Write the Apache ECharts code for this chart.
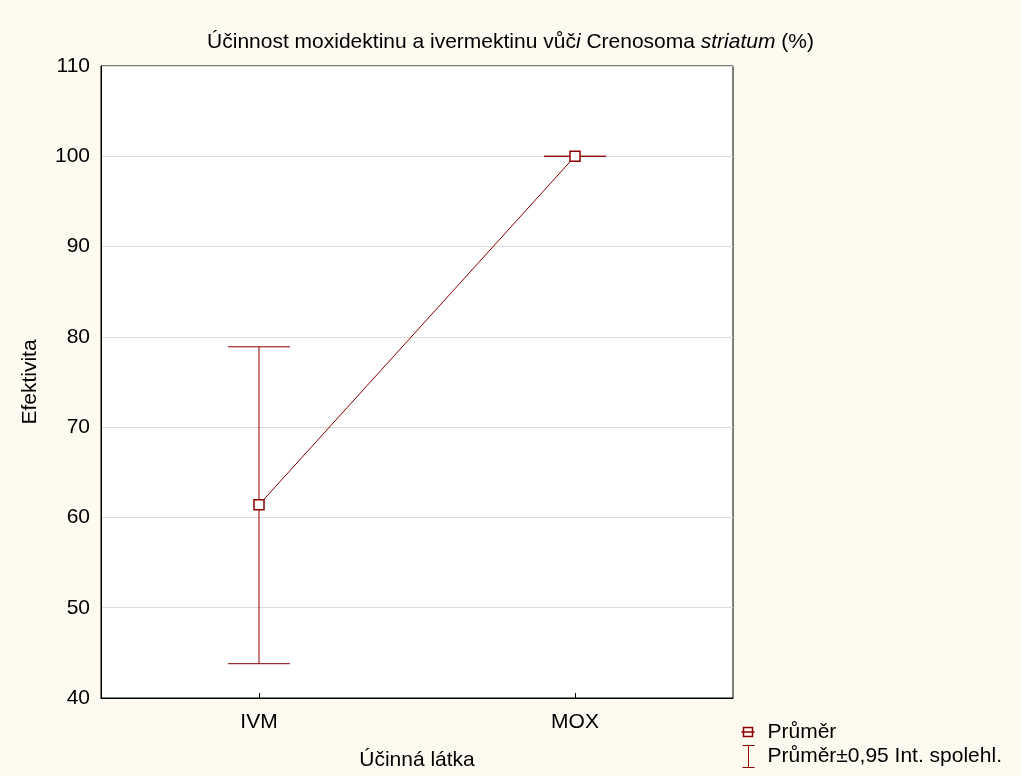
<!DOCTYPE html>
<html><head><meta charset="utf-8">
<script src="https://cdn.jsdelivr.net/npm/echarts@6/dist/echarts.min.js"></script>
<style>html,body{margin:0;padding:0;background:#fffaf0;}#c{width:1021px;height:776px;}</style>
</head><body><div id="c"></div>
<script>
const categories = ['IVM', 'MOX'];
const means = [61.4, 100];
const ciLow = [43.8, 100];
const ciHigh = [78.9, 100];
const yTicks = [40, 50, 60, 70, 80, 90, 100, 110];

const red = '#8b0000';
const font = 'Liberation Sans, Arial, sans-serif';
const fs = 21;
const chart = echarts.init(document.getElementById('c'));
chart.setOption({
  backgroundColor: '#fffaf0',
  animation: false,
  title: {
    text: '{n|Účinnost moxidektinu a ivermektinu vůč}{i|i}{n| Crenosoma }{i|striatum}{n| (%)}',
    left: 'center', top: 27,
    textStyle: {
      rich: {
        n: {fontFamily: font, fontSize: fs, fontWeight: 'normal', color: '#000'},
        i: {fontFamily: font, fontSize: fs, fontWeight: 'normal', color: '#000', fontStyle: 'italic'}
      }
    }
  },
  grid: {left: 101, right: 288, top: 66, bottom: 77, show: true, backgroundColor: '#fff', borderColor: '#000', borderWidth: 1},
  xAxis: {
    type: 'category', data: categories, boundaryGap: true,
    name: 'Účinná látka', nameLocation: 'middle', nameGap: 52,
    nameTextStyle: {fontFamily: font, fontSize: fs, color: '#000'},
    axisLine: {lineStyle: {color: '#000'}},
    axisTick: {show: true, alignWithLabel: true, inside: true, length: 5, lineStyle: {color: '#000'}},
    axisLabel: {fontFamily: font, fontSize: fs, color: '#000', margin: 14},
    splitLine: {show: false}
  },
  yAxis: {
    type: 'value', min: 40, max: 110, interval: 10,
    name: 'Efektivita', nameLocation: 'middle', nameGap: 60,
    nameTextStyle: {fontFamily: font, fontSize: fs, color: '#000'},
    axisLine: {show: true, lineStyle: {color: '#000'}},
    axisTick: {show: false},
    axisLabel: {fontFamily: font, fontSize: fs, color: '#000', margin: 11,
      formatter: v => yTicks.includes(v) ? String(v) : ''},
    splitLine: {show: true, lineStyle: {color: '#dcdcdc', width: 1}}
  },
  series: [
    {
      name: 'Průměr±0,95 Int. spolehl.', type: 'custom',
      data: categories.map((c, i) => [i, ciLow[i], ciHigh[i]]),
      renderItem: function (params, api) {
        const x = api.value(0);
        const lo = api.coord([x, api.value(1)]);
        const hi = api.coord([x, api.value(2)]);
        const hw = 31;
        const st = {stroke: red, lineWidth: 1, fill: null};
        return {type: 'group', children: [
          {type: 'line', shape: {x1: lo[0], y1: lo[1], x2: hi[0], y2: hi[1]}, style: st},
          {type: 'line', shape: {x1: lo[0] - hw, y1: lo[1], x2: lo[0] + hw, y2: lo[1]}, style: st},
          {type: 'line', shape: {x1: hi[0] - hw, y1: hi[1], x2: hi[0] + hw, y2: hi[1]}, style: st}
        ]};
      },
      z: 2
    },
    {
      name: 'Průměr', type: 'line', data: means,
      symbol: 'rect', symbolSize: 10, showAllSymbol: true,
      lineStyle: {color: red, width: 1},
      itemStyle: {color: '#fff', borderColor: red, borderWidth: 1.5},
      z: 3
    }
  ],
  graphic: [
    {type: 'group', left: 739, top: 722, children: [
      {type: 'rect', shape: {x: 2, y: 5, width: 9, height: 9}, style: {fill: null, stroke: red, lineWidth: 1.5}},
      {type: 'line', shape: {x1: 0, y1: 9.5, x2: 13, y2: 9.5}, style: {stroke: red, lineWidth: 1.5}},
      {type: 'text', style: {x: 26, y: 10, text: 'Průměr', font: fs + 'px ' + font, fill: '#000', textVerticalAlign: 'middle'}},
      {type: 'line', shape: {x1: 7, y1: 23, x2: 7, y2: 45}, style: {stroke: red, lineWidth: 1}},
      {type: 'line', shape: {x1: 1, y1: 23, x2: 13, y2: 23}, style: {stroke: red, lineWidth: 1}},
      {type: 'line', shape: {x1: 1, y1: 45, x2: 13, y2: 45}, style: {stroke: red, lineWidth: 1}},
      {type: 'text', style: {x: 26, y: 34, text: 'Průměr±0,95 Int. spolehl.', font: fs + 'px ' + font, fill: '#000', textVerticalAlign: 'middle'}}
    ]}
  ]
});
</script></body></html>
